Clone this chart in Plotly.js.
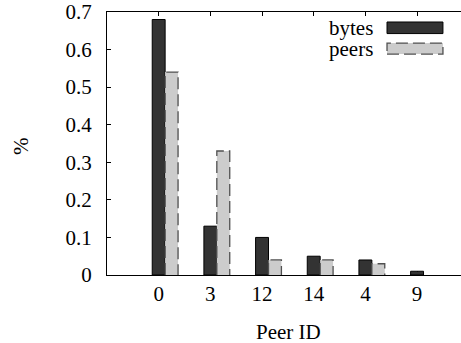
<!DOCTYPE html>
<html>
<head>
<meta charset="utf-8">
<script src="https://cdn.plot.ly/plotly-3.0.1.min.js"></script>
<style>html,body{margin:0;padding:0;background:#fff;overflow:hidden;}</style>
</head>
<body>
<div id="chart" style="width:461px;height:343px;"></div>
<script>
const categories = ['0', '3', '12', '14', '4', '9'];
const bytesValues = [0.68, 0.13, 0.10, 0.05, 0.04, 0.01];
const peersValues = [0.54, 0.33, 0.04, 0.04, 0.03, 0.0];
const yTicks = [0, 0.1, 0.2, 0.3, 0.4, 0.5, 0.6, 0.7];

const idx = categories.map((c, i) => i);
const BW = 0.25;
const Y_RANGE = [0, 0.7];

// dashed outline path for the peers bars, built from data
const ox = [], oy = [];
peersValues.forEach((v, i) => {
  if (v <= 0) return;
  ox.push(i + BW / 2, i + BW / 2, i + 1.5 * BW, i + 1.5 * BW, null);
  oy.push(0, v, v, 0, null);
});

const FONT = 'Times New Roman';

const traces = [
  {type: 'bar', x: idx, y: bytesValues, width: BW, offset: -BW / 2,
   marker: {color: '#333333', line: {color: '#000000', width: 1}}, name: 'bytes'},
  {type: 'bar', x: idx, y: peersValues, width: BW, offset: BW / 2,
   marker: {color: '#cccccc', line: {width: 0}}, name: 'peers'},
  {type: 'scatter', mode: 'lines', x: ox, y: oy, yaxis: 'y2', connectgaps: false,
   line: {color: '#505050', width: 1.3, dash: '12px,5px'}, hoverinfo: 'skip'}
];

const layout = {
  width: 461, height: 343,
  margin: {l: 107, r: 0, t: 12, b: 68},
  paper_bgcolor: '#ffffff', plot_bgcolor: '#ffffff',
  showlegend: false, barmode: 'overlay', hovermode: false,
  font: {family: FONT, size: 21, color: '#000'},
  xaxis: {
    range: [-1, 5.85], tickvals: idx, ticktext: categories,
    ticks: 'inside', ticklen: 4, tickcolor: '#000', mirror: 'ticks',
    showline: true, linecolor: '#000', linewidth: 1, layer: 'below traces',
    showgrid: false, zeroline: false,
    tickfont: {family: FONT, size: 21, color: '#000'}
  },
  yaxis: {
    range: Y_RANGE, tickvals: yTicks, ticktext: yTicks.map(v => String(v)),
    ticks: 'outside', ticklen: 10, tickcolor: 'rgba(0,0,0,0)',
    showline: true, linecolor: '#000', linewidth: 1,
    showgrid: false, zeroline: false,
    tickfont: {family: FONT, size: 21, color: '#000'}
  },
  yaxis2: {
    range: Y_RANGE, overlaying: 'y', side: 'left', tickvals: yTicks,
    ticks: 'inside', ticklen: 4, tickcolor: '#000', showticklabels: false,
    showline: false, showgrid: false, zeroline: false
  },
  annotations: [
    {text: 'Peer ID', xref: 'paper', yref: 'paper', x: 0.5113, y: -0.215,
     xanchor: 'center', yanchor: 'middle', showarrow: false, font: {family: FONT, size: 21, color: '#000'}},
    {text: '%', xref: 'paper', yref: 'paper', x: -0.243, y: 0.49, textangle: -90,
     xanchor: 'center', yanchor: 'middle', showarrow: false, font: {family: FONT, size: 21, color: '#000'}},
    {text: 'bytes', xref: 'paper', yref: 'paper', x: 0.757, y: 0.938,
     xanchor: 'right', yanchor: 'middle', showarrow: false, font: {family: FONT, size: 21, color: '#000'}},
    {text: 'peers', xref: 'paper', yref: 'paper', x: 0.757, y: 0.859,
     xanchor: 'right', yanchor: 'middle', showarrow: false, font: {family: FONT, size: 21, color: '#000'}}
  ],
  shapes: [
    {type: 'rect', xref: 'paper', yref: 'paper', x0: 0.791, x1: 0.949, y0: 0.918, y1: 0.962,
     fillcolor: '#333333', line: {color: '#000', width: 1}},
    {type: 'rect', xref: 'paper', yref: 'paper', x0: 0.791, x1: 0.949, y0: 0.840, y1: 0.882,
     fillcolor: '#cccccc', line: {color: '#505050', width: 1.3, dash: '12px,5px'}}
  ]
};

Plotly.newPlot('chart', traces, layout, {staticPlot: true, displayModeBar: false});
</script>
</body>
</html>
